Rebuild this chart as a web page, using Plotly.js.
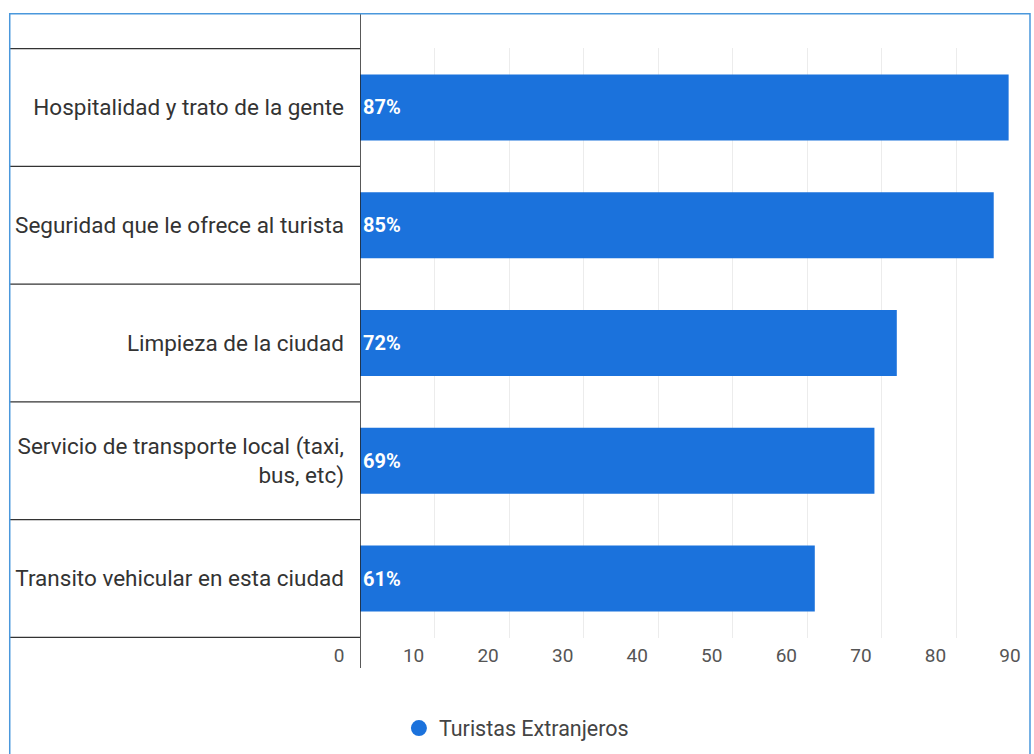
<!DOCTYPE html>
<html>
<head>
<meta charset="utf-8">
<script src="https://cdn.plot.ly/plotly-3.0.1.min.js"></script>
<style>
html,body{margin:0;padding:0;background:#fff;}
#chart{width:1034px;height:754px;}
</style>
</head>
<body>
<div id="chart"></div>
<script>
const categories = [
  "Hospitalidad y trato de la gente",
  "Seguridad que le ofrece al turista",
  "Limpieza de la ciudad",
  "Servicio de transporte local (taxi,<br>bus, etc)",
  "Transito vehicular en esta ciudad"
];
const values = [87, 85, 72, 69, 61];
const seriesName = "Turistas Extranjeros";
const xTicks = [0, 10, 20, 30, 40, 50, 60, 70, 80, 90];

const barColor = "#1b72dc";

const bar = {
  type: "bar",
  orientation: "h",
  y: categories,
  x: values,
  marker: {color: barColor},
  texttemplate: "%{x}%",
  textposition: "inside",
  insidetextanchor: "start",
  textfont: {family: "Roboto, Arial, sans-serif", size: 20, color: "#ffffff", weight: "bold"},
  showlegend: false,
  hoverinfo: "none"
};

const legendTrace = {
  type: "scatter",
  mode: "markers",
  x: [null],
  y: [null],
  name: seriesName,
  marker: {color: barColor, size: 24, symbol: "circle"},
  showlegend: true
};

const shapes = [];
for (let i = 0; i <= categories.length; i++) {
  shapes.push({
    type: "line", xref: "paper", yref: "y",
    x0: -0.522, x1: 0, y0: i - 0.5, y1: i - 0.5,
    line: {color: "#333333", width: 1.2}
  });
}
shapes.push({
  type: "line", xref: "x", yref: "paper",
  x0: 0, x1: 0, y0: -0.051, y1: 1.058,
  line: {color: "#222222", width: 1.5}
});
shapes.push({
  type: "rect", xref: "paper", yref: "paper",
  x0: -0.522, x1: 0.9985, y0: -0.3, y1: 1.058,
  line: {color: "#4a98dc", width: 1.5},
  fillcolor: "rgba(0,0,0,0)"
});

const layout = {
  width: 1034,
  height: 754,
  margin: {l: 360, r: 3, t: 48, b: 116},
  paper_bgcolor: "#ffffff",
  plot_bgcolor: "#ffffff",
  font: {family: "Roboto, Arial, sans-serif", color: "#333333"},
  bargap: 0.44,
  xaxis: {
    range: [0, 90],
    tickvals: xTicks,
    ticktext: xTicks.map(String),
    showgrid: true,
    gridcolor: "#ececec",
    gridwidth: 1,
    zeroline: false,
    showline: false,
    ticks: "",
    ticklabelshift: -21,
    ticklabelstandoff: 4,
    tickfont: {size: 19, color: "#555555"},
    fixedrange: true
  },
  yaxis: {
    type: "category",
    autorange: "reversed",
    showgrid: false,
    zeroline: false,
    showline: false,
    ticks: "",
    ticklabelstandoff: 15,
    tickfont: {size: 22.5, color: "#333333"},
    fixedrange: true
  },
  showlegend: true,
  legend: {
    orientation: "h",
    x: 0.058,
    xanchor: "left",
    y: -0.118,
    yanchor: "top",
    font: {size: 21.5, color: "#444444"},
    bgcolor: "rgba(0,0,0,0)"
  },
  shapes: shapes
};

Plotly.newPlot("chart", [bar, legendTrace], layout, {displayModeBar: false, staticPlot: true});
</script>
</body>
</html>
